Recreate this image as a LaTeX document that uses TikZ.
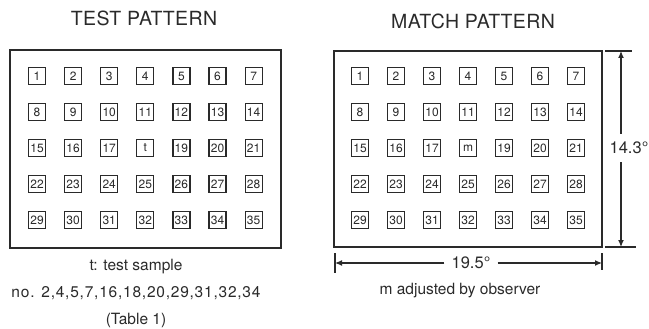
\documentclass[tikz,border=0pt]{standalone}
\usepackage{fontspec}
\setmainfont{TeX Gyre Heros}
\usetikzlibrary{arrows.meta}
\definecolor{ink}{HTML}{2A2A2A}
\tikzset{
  cell/.style={draw=ink, line width=1.2pt, minimum width=17pt, minimum height=17pt, inner sep=0pt, text=ink, font=\fontsize{12}{12}\selectfont},
  frame/.style={draw=ink, line width=1.3pt, inner sep=0pt},
  title/.style={text=ink, font=\fontsize{19.5}{21}\selectfont\addfontfeature{LetterSpace=2}, inner sep=0pt},
  caption/.style={text=ink, font=\fontsize{15.5}{17}\selectfont, inner sep=0pt},
  dimlabel/.style={text=ink, font=\fontsize{16.5}{17}\selectfont, inner sep=2pt},
  dimline/.style={draw=ink, line width=1.2pt},
  dimarrow/.style={draw=ink, line width=1.2pt, -{Latex[length=7pt,width=6pt]}},
}
\begin{document}
\begin{tikzpicture}[x=1pt,y=-1pt]
\useasboundingbox (0,0) rectangle (649,329);
% titles
\node[title] (ttitle) at (144,18) {TEST PATTERN};
\node[title] (mtitle) at (473,21) {MATCH PATTERN};
% frames
\node[frame, minimum width=271pt, minimum height=198pt] (tframe) at (145.5,149) {};
\node[frame, minimum width=268pt, minimum height=196pt] (mframe) at (468,149) {};
% cells
\foreach \r in {0,...,4}{
  \foreach \c in {0,...,6}{
    \pgfmathtruncatemacro{\n}{\r*7+\c+1}
    \ifnum\n=18
      \node[cell] (L\n) at ({37+36.1*\c},{76+36*\r}) {t};
      \node[cell] (R\n) at ({360+36*\c},{76+36*\r}) {m};
    \else
      \node[cell] (L\n) at ({37+36.1*\c},{76+36*\r}) {\n};
      \node[cell] (R\n) at ({360+36*\c},{76+36*\r}) {\n};
    \fi
  }
}
% captions
\node[caption] (cap1) at (136,267) {t: test sample};
\node[caption] (cap2) at (136,293) {\addfontfeature{LetterSpace=5}no. 2,4,5,7,16,18,20,29,31,32,34};
\node[caption] (cap3) at (136,320) {(Table 1)};
\node[caption] (cap4) at (460,291) {m adjusted by observer};
% vertical dimension
\coordinate (vt1) at (605,51);
\coordinate (vt2) at (632,51);
\coordinate (vb1) at (605,247);
\coordinate (vb2) at (636,247);
\coordinate (vtop) at (621,51);
\coordinate (vbot) at (621,247);
\draw[dimline] (vt1) -- (vt2);
\draw[dimline] (vb1) -- (vb2);
\node[dimlabel, inner sep=0pt, minimum height=28pt] (vlabel) at (629,148) {14.3°};
\draw[dimarrow] (vlabel.north -| vtop) -- (vtop);
\draw[dimarrow] (vlabel.south -| vbot) -- (vbot);
% horizontal dimension
\coordinate (hl1) at (335,253);
\coordinate (hl2) at (335,273);
\coordinate (hr1) at (602,253);
\coordinate (hr2) at (602,270);
\coordinate (hleft) at (335,263);
\coordinate (hright) at (602,263);
\draw[dimline] (hl1) -- (hl2);
\draw[dimline] (hr1) -- (hr2);
\node[dimlabel, inner sep=0pt, minimum width=53pt] (hlabel) at (471,263) {19.5°};
\draw[dimarrow] (hlabel.west) -- (hleft);
\draw[dimarrow] (hlabel.east) -- (hright);
\end{tikzpicture}
\end{document}
